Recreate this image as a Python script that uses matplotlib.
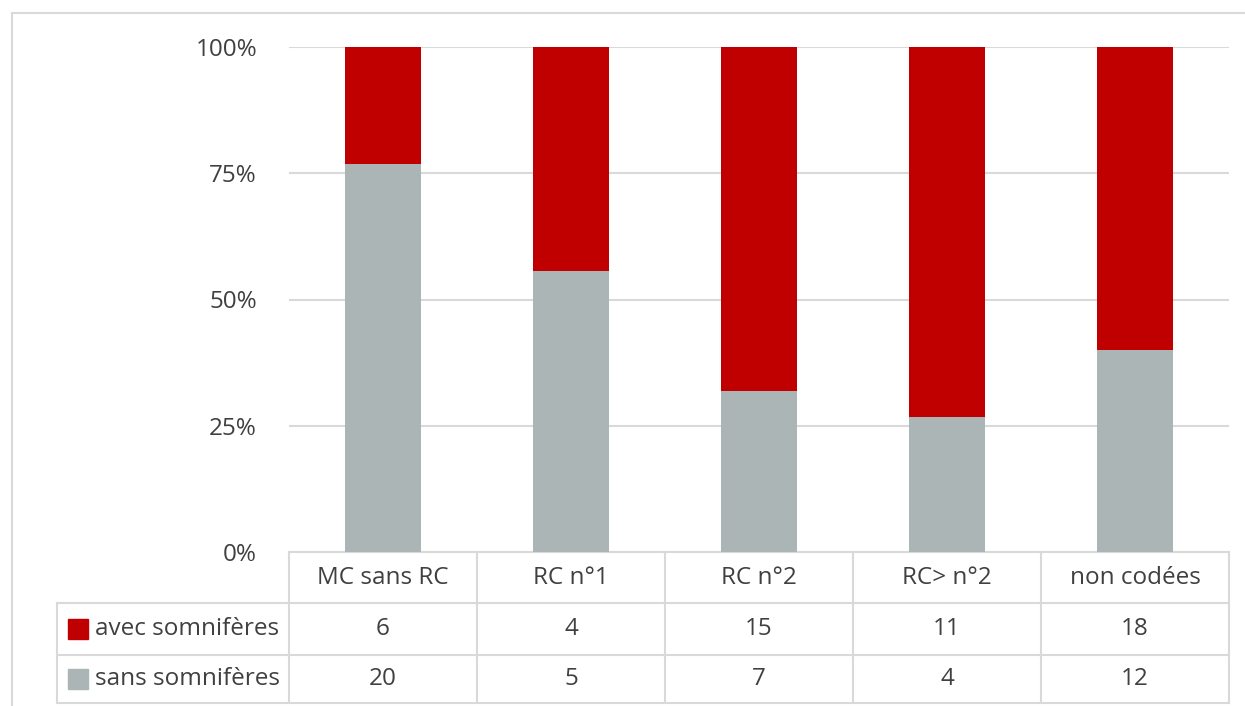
import numpy
from matplotlib import pyplot
from matplotlib.transforms import blended_transform_factory

# data
categories = ["MC sans RC", "RC n°1", "RC n°2", "RC> n°2", "non codées"]
avec = [6, 4, 15, 11, 18]
sans = [20, 5, 7, 4, 12]
series_names = ["avec somnifères", "sans somnifères"]
yticks = [0, 25, 50, 75, 100]

RED = '#C00000'
GREY = '#ABB5B6'
LINE = '#D9D9D9'
TXT = '#404040'

pyplot.rcParams['font.family'] = ['Open Sans', 'DejaVu Sans']

W, H = 1245, 706
fig = pyplot.figure(figsize=(W / 100, H / 100), dpi=100)
# plot area in pixels: x 289..1229, y 47..552
ax = fig.add_axes([289 / W, 1 - 552 / H, 940 / W, 505 / H])

avec_a = numpy.array(avec, dtype=float)
sans_a = numpy.array(sans, dtype=float)
tot = avec_a + sans_a
p_sans = sans_a / tot * 100
p_avec = avec_a / tot * 100
x = numpy.arange(len(categories))

ax.bar(x, p_sans, width=0.40, color=GREY, zorder=3)
ax.bar(x, p_avec, bottom=p_sans, width=0.40, color=RED, zorder=3)

fs = 17.5

ax.set_xlim(-0.5, len(categories) - 0.5)
ax.set_ylim(0, 100)
ax.set_yticks(yticks)
ax.set_yticklabels(["{}%".format(v) for v in yticks], fontsize=fs, color=TXT)
ax.tick_params(axis='y', length=0, pad=23)
ax.set_xticks([])
ax.grid(axis='y', color=LINE, linewidth=1.5, zorder=0)
for s in ax.spines.values():
    s.set_visible(False)

# data table below the plot
ph = 505.0
def yax(py):
    return (552 - py) / ph

tr = blended_transform_factory(ax.transData, ax.transAxes)
row_y = [552, 603, 655, 703]
left_x = -0.5 + (57 - 289) / 188.0
n = len(categories)
lk = dict(color=LINE, linewidth=1.5, transform=tr, clip_on=False)

# vertical lines
for i in range(n + 1):
    ax.plot([i - 0.5, i - 0.5], [yax(552), yax(703)], **lk)
ax.plot([left_x, left_x], [yax(603), yax(703)], **lk)
# horizontal lines
ax.plot([-0.5, n - 0.5], [yax(552), yax(552)], **lk)
for py in row_y[1:]:
    ax.plot([left_x, n - 0.5], [yax(py), yax(py)], **lk)

for i, c in enumerate(categories):
    ax.text(i, yax((552 + 603) / 2), c, ha='center', va='center', fontsize=fs,
            color=TXT, transform=tr)
    ax.text(i, yax((603 + 655) / 2), str(avec[i]), ha='center', va='center',
            fontsize=fs, color=TXT, transform=tr)
    ax.text(i, yax((655 + 703) / 2), str(sans[i]), ha='center', va='center',
            fontsize=fs, color=TXT, transform=tr)

# legend keys inside the table
for name, col, (y0, y1) in zip(series_names, [RED, GREY], [(603, 655), (655, 703)]):
    yc = (y0 + y1) / 2
    fig.patches.append(pyplot.Rectangle((68 / W, 1 - (yc + 10) / H), 20 / W, 20 / H,
                                        color=col, transform=fig.transFigure))
    fig.text(95 / W, 1 - yc / H, name, ha='left', va='center', fontsize=fs, color=TXT)

# outer frame
fig.add_artist(pyplot.Line2D([12 / W, 12 / W], [0, 1 - 13 / H], color=LINE, linewidth=1.5))
fig.add_artist(pyplot.Line2D([12 / W, 1], [1 - 13 / H, 1 - 13 / H], color=LINE, linewidth=1.5))

pyplot.savefig("out.png", dpi=100)
